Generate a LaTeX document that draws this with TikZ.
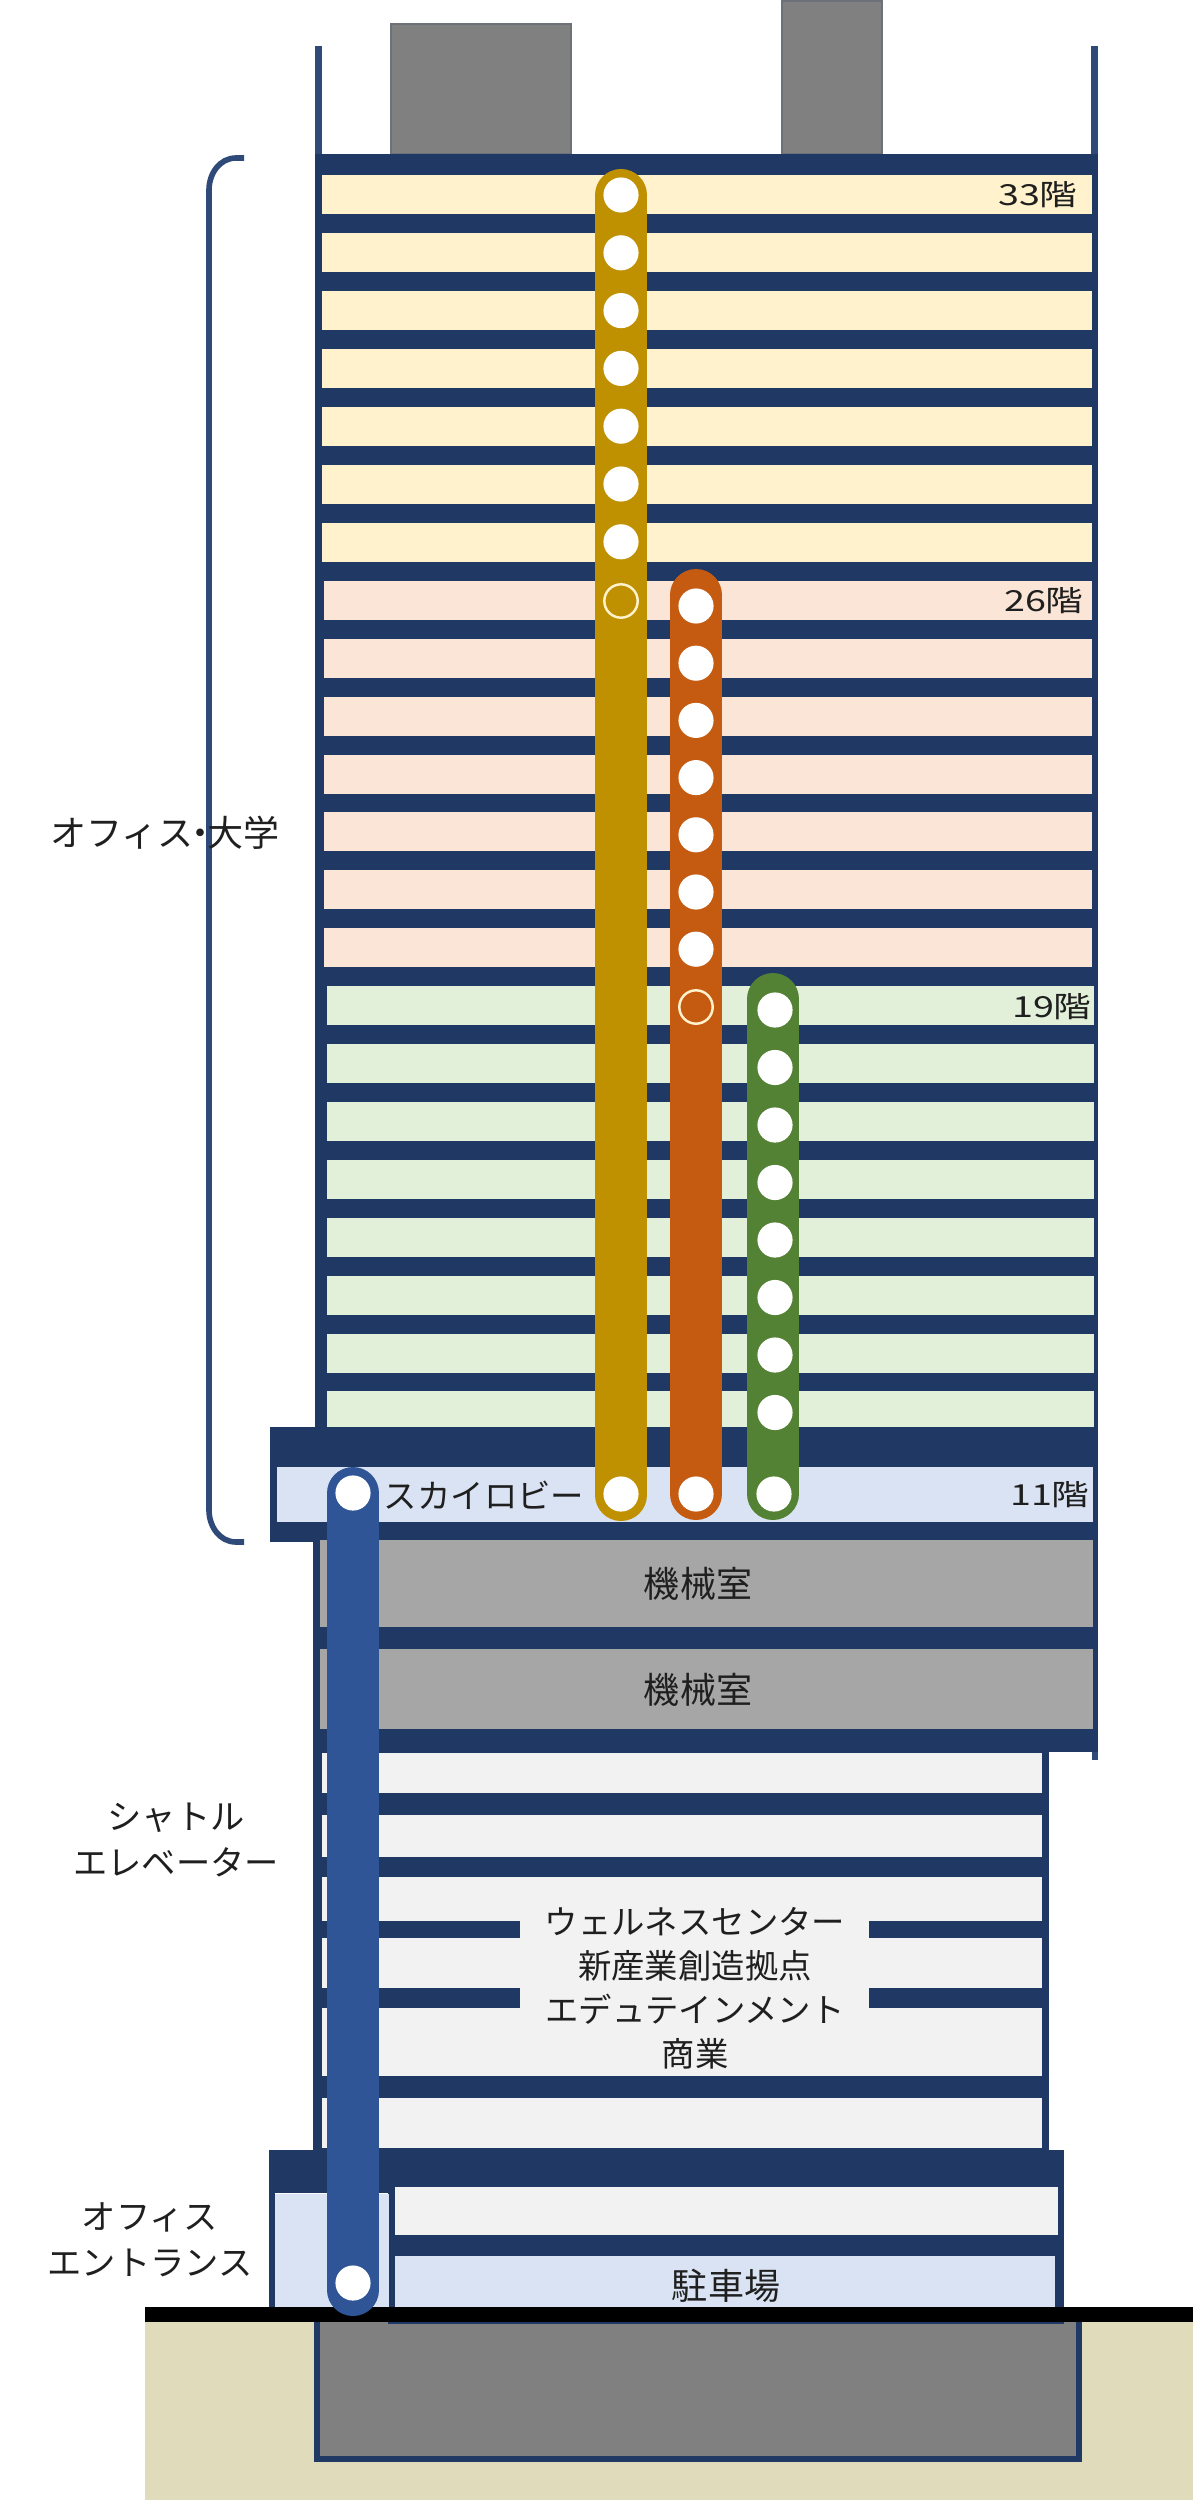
\documentclass[tikz,border=0pt]{standalone}
\usepackage{fontspec}
\setmainfont{Noto Sans CJK JP}
\definecolor{navy}{HTML}{1F3864}
\definecolor{wallc}{HTML}{2F4A78}
\definecolor{fa}{HTML}{FFF2CC}
\definecolor{fb}{HTML}{FBE5D6}
\definecolor{fc}{HTML}{E2F0D9}
\definecolor{fd}{HTML}{DAE3F3}
\definecolor{fe}{HTML}{F2F2F2}
\definecolor{mech}{HTML}{A6A6A6}
\definecolor{core}{HTML}{808080}
\definecolor{ground}{HTML}{E0DCBB}
\definecolor{gold}{HTML}{BF9000}
\definecolor{rust}{HTML}{C55A11}
\definecolor{leaf}{HTML}{548235}
\definecolor{lift}{HTML}{2F5597}
\newcommand{\fl}[1]{\scalebox{1.3}[1]{#1}}
\tikzset{
  lbl/.style={font=\fontsize{19pt}{23.5pt}\selectfont, text=black!88, inner sep=0pt, align=center},
  bigl/.style={font=\fontsize{20.5pt}{24pt}\selectfont, text=black!88, inner sep=0pt, align=center},
  floorlbl/.style={font=\fontsize{16.5pt}{20pt}\selectfont, text=black!88, inner sep=0pt, anchor=east},
  shaft/.style={line width=29.6pt, line cap=round},
  stop/.style={circle, fill=white, minimum size=20pt, inner sep=0pt},
  xfer/.style={circle, draw=fa, line width=1.4pt, minimum size=19pt, inner sep=0pt},
  slab/.style={fill=navy},
}
\begin{document}
\begin{tikzpicture}[x=0.02cm,y=-0.02cm]
\useasboundingbox (0,0) rectangle (1200,2500);
% ground
\fill[ground] (145,2322) rectangle (1193,2500);
\draw[fill=core, draw=navy, line width=3.5pt] (317,2312) rectangle (1079,2459);
% roof equipment
\draw[fill=core, draw=core!80!navy, line width=1.2pt] (391,24) rectangle (571,154);
\draw[fill=core, draw=core!80!navy, line width=1.2pt] (782,1) rectangle (882,154);
% upper walls
\fill[wallc] (315,46) rectangle (322,154);
\fill[wallc] (1091,46) rectangle (1098,154);
% upper body
\fill[slab] (315,154) rectangle (1098,1430);
\foreach \n in {0,...,6} \fill[fa] (322,{175.5+57.9*\n}) rectangle (1092,{214.5+57.9*\n});
\foreach \n in {7,...,13} \fill[fb] (324,{175.5+57.9*\n}) rectangle (1092,{214.5+57.9*\n});
\foreach \n in {14,...,21} \fill[fc] (327,{175.5+57.9*\n}) rectangle (1094,{214.5+57.9*\n});
% sky lobby
\fill[slab] (270,1427) rectangle (1098,1542);
\fill[fd] (277,1467) rectangle (1093,1522);
% mechanical floors
\fill[slab] (313,1540) rectangle (1098,1752);
\fill[wallc] (1092,1752) rectangle (1098,1760);
\fill[mech] (320,1540) rectangle (1093,1627);
\fill[mech] (320,1649) rectangle (1093,1729);
% podium
\fill[slab] (313,1752) rectangle (1049,2150);
\fill[fe] (322,1753) rectangle (1042,1793);
\fill[fe] (322,1815) rectangle (1042,1857);
\fill[fe] (322,1877) rectangle (1042,2076);
\fill[fe] (322,2098) rectangle (1042,2148);
\fill[navy] (322,1921) rectangle (520,1938);
\fill[navy] (869,1921) rectangle (1042,1938);
\fill[navy] (322,1988) rectangle (520,2008);
\fill[navy] (869,1988) rectangle (1042,2008);
% base
\fill[slab] (269,2150) rectangle (1064,2193);
\fill[slab] (269,2193) rectangle (275,2307);
\fill[slab] (388,2187) rectangle (1064,2324);
\fill[fd] (275,2194) rectangle (389,2307);
\fill[fe] (395,2187) rectangle (1058,2235);
\fill[fd] (395,2256) rectangle (1055,2307);
\fill[black] (145,2307) rectangle (1193,2322);
% bracket
\draw[wallc, line width=3.2pt] (244,158) -- (236,158) to[out=180,in=90] (209,190) -- (209,1510) to[out=-90,in=180] (236,1542) -- (244,1542);
% shafts
\coordinate (goldtop) at (621,195);  \coordinate (goldbot) at (621,1495);
\coordinate (rusttop) at (696,595);  \coordinate (rustbot) at (696,1494);
\coordinate (leaftop) at (773,999);  \coordinate (leafbot) at (773,1494);
\coordinate (lifttop) at (353,1493); \coordinate (liftbot) at (353,2290);
\draw[shaft, gold] (goldtop) -- (goldbot);
\draw[shaft, rust] (rusttop) -- (rustbot);
\draw[shaft, leaf] (leaftop) -- (leafbot);
\draw[shaft, lift] (lifttop) -- (liftbot);
% stops
\foreach \n in {0,...,6} \node[stop] (g\n) at (621,{195+57.8*\n}) {};
\node[xfer, fill=gold] (gx) at (621,601) {};
\node[stop] (gs) at (621,1494) {};
\foreach \n in {0,...,6} \node[stop] (r\n) at (696,{606+57.2*\n}) {};
\node[xfer, fill=rust] (rx) at (696,1007) {};
\node[stop] (rs) at (696,1494) {};
\foreach \n in {0,...,7} \node[stop] (l\n) at (775,{1010+57.5*\n}) {};
\node[stop] (ls) at (774,1494) {};
\node[stop] (bs) at (353,1493) {};
\node[stop] (be) at (353,2283) {};
% labels
\node[floorlbl] (f33) at (1078,195) {\fl{33階}};
\node[floorlbl] (f26) at (1084,601) {\fl{26階}};
\node[floorlbl] (f19) at (1092,1007) {\fl{19階}};
\node[floorlbl] (f11) at (1090,1495) {\fl{11階}};
\node[bigl] (office) at (165,833) {オフィス\hspace{-0.3em}・\hspace{-0.3em}大学};
\node[lbl] (sky) at (484,1495) {スカイロビー};
\node[bigl] (m1) at (698,1584) {機械室};
\node[bigl] (m2) at (698,1690) {機械室};
\node[lbl, font=\fontsize{19.5pt}{23pt}\selectfont] (shuttle) at (176,1840) {シャトル\\[3pt]エレベーター};
\node[lbl, font=\fontsize{19.5pt}{23pt}\selectfont] (entr) at (150,2240) {オフィス\\[3pt]エントランス};
\node[lbl, font=\fontsize{19pt}{25pt}\selectfont] (mix) at (695,1988) {ウェルネスセンター\\新産業創造拠点\\エデュテインメント\\商業};
\node[bigl] (park) at (726,2286) {駐車場};
\end{tikzpicture}
\end{document}
